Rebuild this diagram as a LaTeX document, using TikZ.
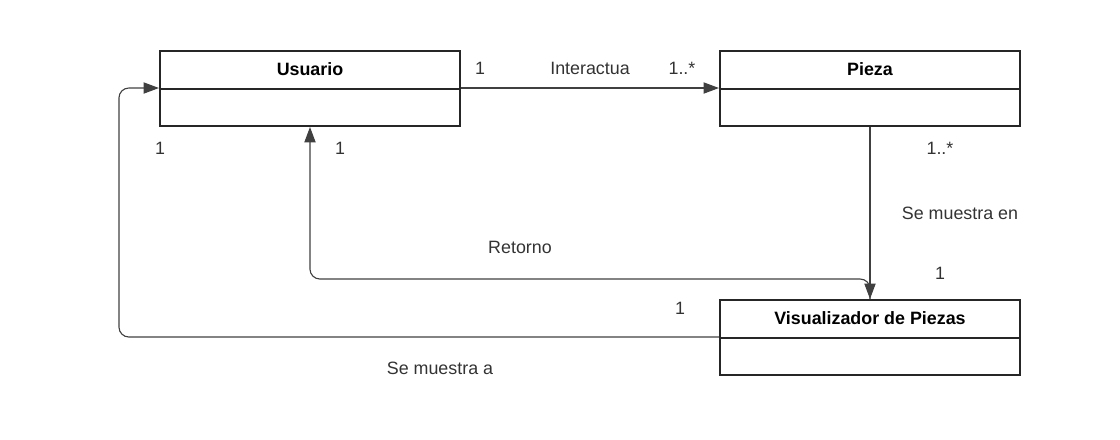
\documentclass[tikz,border=0pt]{standalone}
\usepackage{fontspec}
\setmainfont{Liberation Sans}
\usetikzlibrary{arrows.meta}

\begin{document}
\begin{tikzpicture}[x=0.025cm,y=-0.025cm,
    head/.style={draw=black!85,line width=1.4pt,minimum width=7.5cm,minimum height=0.95cm,inner sep=0pt,font=\fontsize{12.7}{14}\selectfont\bfseries},
    body/.style={draw=black!85,line width=1.4pt,minimum width=7.5cm,minimum height=0.925cm,inner sep=0pt},
    conn/.style={draw=black!75,line width=0.8pt,rounded corners=7pt},
    tip/.style={-{Triangle[length=11pt,width=8pt]}},
    lbl/.style={font=\fontsize{12.7}{14}\selectfont,text=black!80,inner sep=1pt}]
    \useasboundingbox (0,0) rectangle (1120,440);

    % clases
    \node[head] (usrT) at (310,70){\raisebox{1pt}{Usuario}};
    \node[body] (usrB) at (310,107.5){};
    \node[head] (pzaT) at (870,70){\raisebox{1pt}{Pieza}};
    \node[body] (pzaB) at (870,107.5){};
    \node[head] (visT) at (870,319){\raisebox{1pt}{Visualizador de Piezas}};
    \node[body] (visB) at (870,356.5){};

    % relaciones
    \draw[conn,tip] (usrB.north east) -- (pzaB.north west);
    \draw[conn,tip] (pzaB.south) -- (visT.north);
    \draw[conn,tip] (visT.north) -- ++(0,-20) -| (usrB.south);
    \draw[conn,tip] (visB.north west) -- ++(-600,0) |- (usrB.north west);

    % etiquetas
    \node[lbl] (mUsrPza) at (480,68){1};
    \node[lbl] (nInter) at (590,68){Interactua};
    \node[lbl] (mPzaUsr) at (682,68){1..*};
    \node[lbl] (mUsrVisA) at (160,148){1};
    \node[lbl] (mUsrVisB) at (340,148){1};
    \node[lbl] (mPzaVis) at (940,148){1..*};
    \node[lbl] (nMuestraEn) at (960,213){Se muestra en};
    \node[lbl] (nRetorno) at (520,247){Retorno};
    \node[lbl] (mVisPza) at (940,273){1};
    \node[lbl] (mVisUsr) at (680,308){1};
    \node[lbl] (nMuestraA) at (440,368){Se muestra a};
\end{tikzpicture}
\end{document}
